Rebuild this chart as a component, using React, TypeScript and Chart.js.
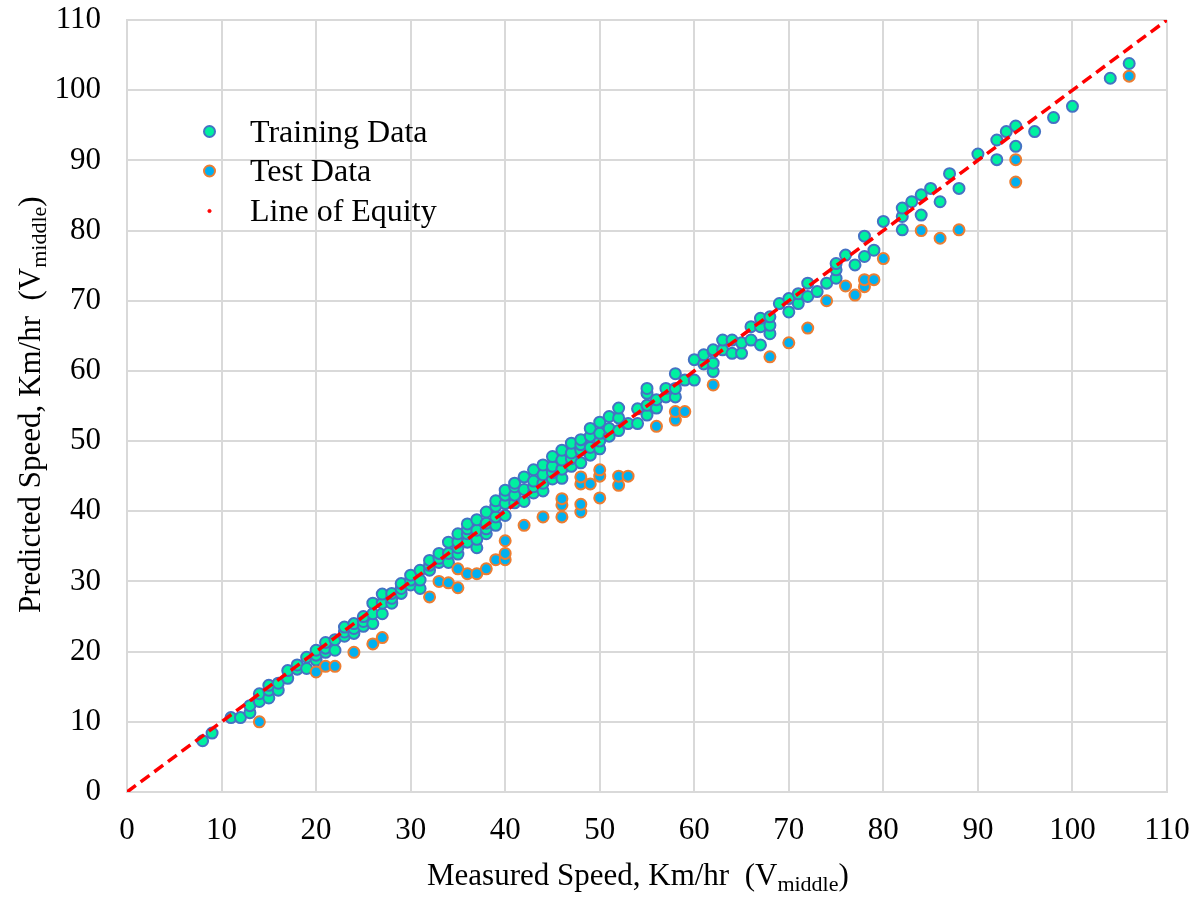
import React, { useEffect, useRef } from 'react';
import { Chart, registerables } from 'chart.js';

Chart.register(...registerables);

// ---- data ----
const axisTicks = [0, 10, 20, 30, 40, 50, 60, 70, 80, 90, 100, 110];

const trainingPoints: [number, number][] = [
  [8, 7.3], [9, 8.4], [11, 10.6], [12, 10.6], [13, 11.3], [13, 12.3], [14, 12.9], [14, 14.0],
  [15, 13.4], [15, 14.5], [15, 15.2], [16, 14.5], [16, 15.5], [17, 16.2], [17, 17.3], [18, 17.5],
  [18, 18.1], [19, 17.6], [19, 19.2], [20, 18.8], [20, 19.5], [20, 20.2], [21, 19.9], [21, 20.5],
  [21, 21.3], [22, 20.2], [22, 21.7], [23, 22.2], [23, 22.8], [23, 23.5], [24, 22.6], [24, 23.3],
  [24, 24.0], [25, 23.6], [25, 24.3], [25, 25.0], [26, 24.0], [26, 25.4], [26, 26.9], [27, 25.4],
  [27, 26.9], [27, 28.2], [28, 26.9], [28, 27.6], [28, 28.3], [29, 28.3], [29, 29.0], [29, 29.7],
  [30, 29.5], [30, 30.2], [30, 30.9], [31, 29.0], [31, 30.2], [31, 31.6], [32, 31.6], [32, 32.3],
  [32, 33.0], [33, 32.7], [33, 33.3], [33, 34.0], [34, 32.7], [34, 34.0], [34, 35.6], [35, 33.9],
  [35, 34.8], [35, 35.6], [35, 36.8], [36, 35.6], [36, 36.8], [36, 37.5], [36, 38.2], [37, 34.8],
  [37, 36.0], [37, 37.3], [37, 38.8], [38, 36.8], [38, 37.5], [38, 38.3], [38, 39.9], [39, 38.0],
  [39, 39.2], [39, 40.7], [39, 41.5], [40, 39.4], [40, 41.1], [40, 42.3], [40, 43.0], [41, 41.2],
  [41, 42.3], [41, 43.5], [41, 44.0], [42, 41.4], [42, 43.1], [42, 44.9], [43, 42.6], [43, 43.5],
  [43, 44.3], [43, 45.9], [44, 42.9], [44, 44.0], [44, 45.2], [44, 46.6], [45, 44.6], [45, 45.5],
  [45, 46.4], [45, 47.8], [46, 44.7], [46, 46.0], [46, 47.3], [46, 48.7], [47, 46.4], [47, 47.5],
  [47, 48.3], [47, 49.7], [48, 46.9], [48, 48.7], [48, 49.5], [48, 50.2], [49, 48.0], [49, 49.1],
  [49, 50.7], [49, 51.8], [50, 48.9], [50, 50.0], [50, 51.1], [50, 52.7], [51, 50.7], [51, 51.8],
  [51, 53.5], [52, 51.5], [52, 53.3], [52, 54.7], [53, 52.5], [54, 52.5], [54, 54.6], [55, 53.7],
  [55, 55.1], [55, 56.8], [55, 57.5], [56, 54.7], [56, 55.9], [57, 56.3], [57, 57.5], [58, 56.3],
  [58, 57.5], [58, 59.6], [59, 58.7], [60, 58.7], [60, 61.6], [61, 61.0], [61, 62.3], [62, 59.9],
  [62, 61.1], [62, 62.7], [62, 63.0], [63, 63.0], [63, 64.4], [64, 62.5], [64, 64.4], [65, 62.5],
  [65, 64.0], [66, 64.4], [66, 66.3], [67, 63.7], [67, 66.3], [67, 67.5], [68, 65.3], [68, 66.5],
  [68, 67.7], [69, 69.6], [70, 68.4], [70, 70.3], [71, 69.6], [71, 71.0], [72, 70.6], [72, 72.5],
  [73, 71.3], [74, 72.5], [75, 73.2], [75, 74.4], [75, 75.3], [76, 76.5], [77, 75.1], [78, 76.3],
  [78, 79.2], [79, 77.2], [80, 81.3], [82, 80.1], [82, 82.0], [82, 83.2], [83, 84.1], [84, 82.2],
  [84, 85.1], [85, 86.0], [86, 84.1], [87, 88.1], [88, 86.0], [90, 90.9], [92, 90.1], [92, 92.9],
  [93, 94.1], [94, 92.0], [94, 94.9], [96, 94.1], [98, 96.1], [100, 97.7], [104, 101.7], [106, 103.8],
];

const testPoints: [number, number][] = [
  [14, 10.0], [20, 17.1], [21, 17.9], [22, 17.9], [24, 19.9], [26, 21.1], [27, 22.0], [32, 27.8],
  [33, 30.0], [34, 29.8], [35, 29.1], [35, 31.8], [36, 31.1], [37, 31.1], [38, 31.8], [39, 33.1],
  [40, 33.1], [40, 34.0], [40, 35.8], [42, 38.0], [44, 39.2], [46, 39.2], [46, 40.9], [46, 41.8],
  [48, 39.9], [48, 41.0], [48, 43.9], [48, 44.9], [49, 43.9], [50, 41.9], [50, 45.0], [50, 45.9],
  [52, 43.7], [52, 45.0], [53, 45.0], [56, 52.1], [58, 53.0], [58, 54.2], [59, 54.2], [62, 58.0],
  [68, 62.0], [70, 64.0], [72, 66.1], [74, 70.0], [76, 72.1], [77, 70.8], [78, 72.0], [78, 73.0],
  [79, 73.0], [80, 76.0], [84, 80.0], [86, 78.9], [88, 80.1], [94, 86.9], [94, 90.1], [106, 102.0],
];

const equityLine: [number, number][] = [[0, 0], [110, 110]];

const seriesNames = ['Training Data', 'Test Data', 'Line of Equity'];

// ---- styles ----
const FONT = '"Liberation Serif", "Times New Roman", serif';
const TEXT = '#000000';
const GRID = '#d9d9d9';
const TRAIN_FILL = '#00f0a0';
const TRAIN_EDGE = '#4472c4';
const TEST_FILL = '#00b0f0';
const TEST_EDGE = '#ed7d31';
const EQ = '#ff0000';

function drawParts(ctx: CanvasRenderingContext2D, parts: { t: string; s: number; dy: number }[], x: number, y: number) {
  let cx = x;
  for (const p of parts) {
    ctx.font = `${p.s}px ${FONT}`;
    ctx.fillText(p.t, cx, y + p.dy);
    cx += ctx.measureText(p.t).width;
  }
}

const overlayPlugin = {
  id: 'overlay',
  afterDraw(chart: any) {
    const ctx: CanvasRenderingContext2D = chart.ctx;
    ctx.save();
    ctx.fillStyle = TEXT;
    ctx.textAlign = 'left';
    ctx.textBaseline = 'alphabetic';

    // legend
    const rows = [
      { y: 131.5, fill: TRAIN_FILL, edge: TRAIN_EDGE, r: 5.5 },
      { y: 171, fill: TEST_FILL, edge: TEST_EDGE, r: 5.5 },
      { y: 211, fill: EQ, edge: EQ, r: 1.6 },
    ];
    rows.forEach((row, i) => {
      ctx.beginPath();
      ctx.arc(209.5, row.y, row.r, 0, Math.PI * 2);
      ctx.fillStyle = row.fill;
      ctx.fill();
      ctx.lineWidth = i < 2 ? 2 : 1;
      ctx.strokeStyle = row.edge;
      ctx.stroke();
      ctx.fillStyle = TEXT;
      ctx.font = `32px ${FONT}`;
      ctx.fillText(seriesNames[i], 250, row.y + 10);
    });

    // axis titles
    const xParts = [
      { t: 'Measured Speed, Km/hr  (V', s: 31, dy: 0 },
      { t: 'middle', s: 22, dy: 6 },
      { t: ')', s: 31, dy: 0 },
    ];
    drawParts(ctx, xParts, 427, 885);

    const yParts = [
      { t: 'Predicted Speed, Km/hr  (V', s: 31, dy: 0 },
      { t: 'middle', s: 22, dy: 6 },
      { t: ')', s: 31, dy: 0 },
    ];
    ctx.translate(40, 613);
    ctx.rotate(-Math.PI / 2);
    drawParts(ctx, yParts, 0, 0);
    ctx.restore();
  },
};

export default function App() {
  const ref = useRef<HTMLCanvasElement | null>(null);

  useEffect(() => {
    if (!ref.current) return;
    const axisCfg = (tickLength: number) => ({
      min: 0,
      max: 110,
      afterBuildTicks: (scale: any) => {
        scale.ticks = axisTicks.map((v) => ({ value: v }));
      },
      ticks: {
        autoSkip: false,
        maxRotation: 0,
        padding: 0,
        color: TEXT,
        font: { family: FONT, size: 31, lineHeight: 1.2 },
      },
      grid: { color: GRID, lineWidth: 2, drawTicks: true, tickLength, tickColor: 'rgba(0,0,0,0)' },
      border: { color: GRID, width: 2 },
    });

    const chart = new Chart(ref.current, {
      type: 'scatter',
      data: {
        datasets: [
          {
            label: seriesNames[0],
            data: trainingPoints.map(([x, y]) => ({ x, y })),
            backgroundColor: TRAIN_FILL,
            borderColor: TRAIN_EDGE,
            borderWidth: 2,
            pointRadius: 5.5,
            order: 2,
          },
          {
            label: seriesNames[1],
            data: testPoints.map(([x, y]) => ({ x, y })),
            backgroundColor: TEST_FILL,
            borderColor: TEST_EDGE,
            borderWidth: 2,
            pointRadius: 5.5,
            order: 1,
          },
          {
            type: 'line',
            label: seriesNames[2],
            data: equityLine.map(([x, y]) => ({ x, y })),
            borderColor: EQ,
            borderWidth: 3.5,
            borderDash: [11, 6],
            pointRadius: 0,
            fill: false,
            showLine: true,
            order: 0,
          } as any,
        ],
      },
      options: {
        responsive: false,
        animation: false,
        devicePixelRatio: 1,
        events: [],
        layout: { padding: { left: 0, right: 35, top: 20, bottom: 0 } },
        plugins: { legend: { display: false }, tooltip: { enabled: false } },
        scales: {
          x: {
            type: 'linear',
            position: 'bottom',
            ...axisCfg(20),
            afterFit: (s: any) => {
              s.height = 110;
            },
          } as any,
          y: {
            type: 'linear',
            position: 'left',
            ...axisCfg(26),
            afterFit: (s: any) => {
              s.width = 127;
            },
          } as any,
        },
      },
      plugins: [overlayPlugin],
    });
    return () => chart.destroy();
  }, []);

  return (
    <div style={{ position: 'fixed', left: 0, top: 0, width: 1202, height: 902, background: '#fff' }}>
      <canvas ref={ref} width={1202} height={902} style={{ width: 1202, height: 902, display: 'block' }} />
    </div>
  );
}
